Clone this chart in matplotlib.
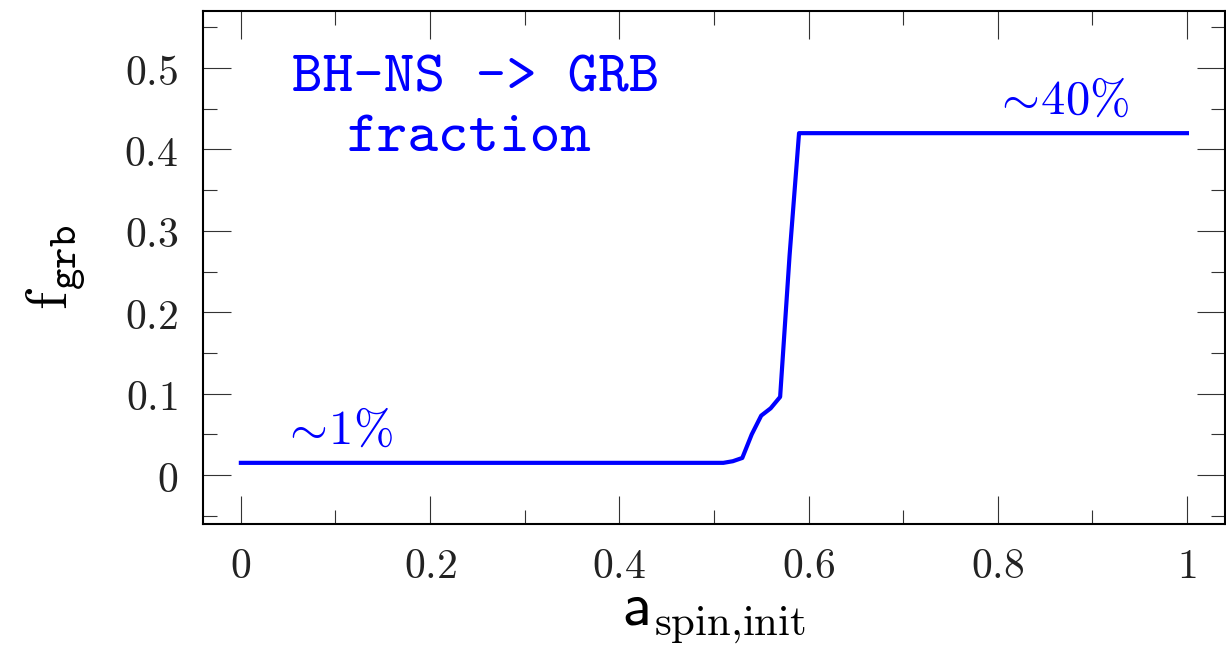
import matplotlib
matplotlib.use("Agg")
import matplotlib.pyplot as plt
from matplotlib.ticker import MultipleLocator, FuncFormatter

plt.rcParams['mathtext.fontset'] = 'cm'

# data
a_spin = [0.0, 0.1, 0.2, 0.3, 0.4, 0.5, 0.51, 0.52, 0.53, 0.54, 0.55, 0.56, 0.57, 0.58, 0.59, 0.7, 0.8, 0.9, 1.0]
f_grb = [0.015, 0.015, 0.015, 0.015, 0.015, 0.015, 0.015, 0.017, 0.021, 0.05, 0.073, 0.082, 0.096, 0.27, 0.42, 0.42, 0.42, 0.42, 0.42]

fig = plt.figure(figsize=(12.26, 6.5), dpi=100)
ax = fig.add_axes([0.1656, 0.194, 0.8334, 0.789])

ax.plot(a_spin, f_grb, color='#0000ff', lw=3)

ax.set_xlim(-0.04, 1.04)
ax.set_ylim(-0.06, 0.57)

ax.xaxis.set_major_locator(MultipleLocator(0.2))
ax.xaxis.set_minor_locator(MultipleLocator(0.1))
ax.yaxis.set_major_locator(MultipleLocator(0.1))
ax.yaxis.set_minor_locator(MultipleLocator(0.05))

def fmt(v, pos):
    s = '%g' % round(v, 2)
    return '$' + s + '$'

ax.xaxis.set_major_formatter(FuncFormatter(fmt))
ax.yaxis.set_major_formatter(FuncFormatter(fmt))

ax.tick_params(which='both', direction='in', top=True, right=True, width=0.8, color='#333333')
ax.tick_params(which='major', length=20, labelsize=30, labelcolor='#222222')
ax.tick_params(which='minor', length=10)
ax.tick_params(axis='x', which='major', pad=15)
ax.tick_params(axis='y', which='major', pad=18)
for sp in ax.spines.values():
    sp.set_linewidth(1.5)

ax.set_xlabel(r'$\mathsf{a}_{\mathrm{spin{,}init}}$', fontsize=44, labelpad=0)
ax.set_ylabel(r'$\mathrm{f}_{\mathtt{grb}}$', fontsize=42, labelpad=26)

ax.text(0.248, 0.485, 'BH-NS -> GRB', family='cmtt10', color='#0000ff', fontsize=42, ha='center', va='center')
ax.text(0.2415, 0.412, 'fraction', family='cmtt10', color='#0000ff', fontsize=42, ha='center', va='center')
ax.text(0.101, 0.056, r'$\sim\!1\%$', color='#0000ff', fontsize=35, ha='center', va='center')
ax.text(0.867, 0.461, r'$\sim\!40\%$', color='#0000ff', fontsize=35, ha='center', va='center')

fig.savefig('out.png', dpi=100)
